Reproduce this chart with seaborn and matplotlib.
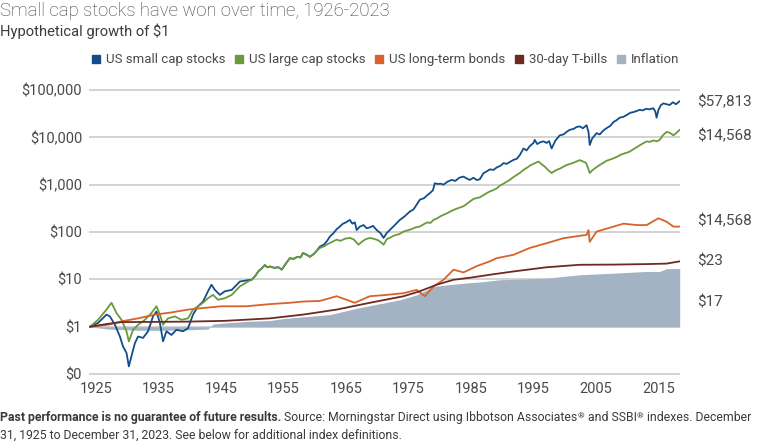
import matplotlib
matplotlib.use("Agg")
import pandas as pd
import seaborn as sns
import matplotlib.pyplot as plt
from matplotlib.lines import Line2D
from matplotlib.ticker import NullLocator

# values (x in the chart's own year scale)
small_years = [1924.0, 1925.3, 1926.65, 1927.2, 1928.0, 1928.8, 1929.3, 1929.85, 1930.23, 1930.65,
               1931.2, 1931.7, 1932.5, 1933.3, 1934.1, 1934.65, 1935.2, 1935.7, 1936.25, 1937.05,
               1937.85, 1938.9, 1939.7, 1940.5, 1941.3, 1942.1, 1942.9, 1943.45, 1944.0, 1944.8,
               1945.6, 1946.7, 1948.0, 1949.3, 1949.9,
               1950.5, 1951.0, 1951.5, 1952.0, 1952.4, 1952.8, 1953.5, 1954.2, 1954.7, 1955.3,
               1956.0, 1956.6, 1957.2, 1957.7, 1958.1, 1958.7, 1959.2, 1959.8, 1960.3, 1960.8,
               1961.5, 1962.0, 1962.4, 1963.0, 1963.5, 1964.0, 1964.5, 1965.0, 1965.6, 1966.0,
               1966.4, 1966.7, 1967.2, 1967.8, 1968.3, 1968.8, 1969.3, 1969.9, 1970.5, 1971.0,
               1971.5, 1972.0, 1972.8, 1973.6, 1974.3, 1975.2, 1975.8, 1976.3, 1976.8, 1977.5,
               1978.0, 1978.4, 1978.9, 1979.2, 1979.7, 1980.1, 1980.6, 1981.2, 1981.9, 1982.5,
               1983.1, 1983.8, 1984.3, 1984.8, 1985.4, 1985.9, 1986.4, 1987.0, 1987.5, 1988.0,
               1988.6, 1989.1, 1989.7, 1990.2, 1990.7, 1991.2, 1991.8, 1992.3, 1992.8, 1993.4,
               1993.9, 1994.4, 1995.0, 1995.2, 1995.6, 1996.1, 1996.6, 1997.1, 1997.5, 1997.9,
               1998.5, 1999.2, 1999.8, 2000.3, 2000.8, 2001.4, 2001.9, 2002.4, 2002.9, 2003.5,
               2003.8, 2004.0, 2004.4, 2005.1, 2005.6, 2006.2, 2006.7, 2007.3, 2007.8, 2008.3,
               2008.8, 2009.4, 2010.0, 2010.5, 2011.0, 2011.5, 2012.0, 2012.5, 2013.0, 2013.5,
               2014.2, 2014.5, 2014.7, 2015.0, 2015.4, 2015.8, 2016.3, 2016.8, 2017.3, 2017.8,
               2018.4]
small_vals = [1.0, 1.2, 1.8, 1.65, 1.1, 0.62, 0.38, 0.28, 0.145, 0.24,
              0.45, 0.62, 0.58, 0.8, 1.65, 2.1, 1.2, 0.49, 0.8, 0.67,
              0.86, 0.8, 0.93, 1.8, 2.7, 3.4, 5.6, 7.7, 6.0, 4.7,
              5.6, 6.0, 9.0, 9.6, 9.8,
              12, 15, 17, 20, 18, 18.7, 17.5, 18, 16, 21,
              28, 27, 30, 29, 36, 33, 30, 34, 40, 49,
              55, 66, 80, 95, 115, 130, 150, 160, 180, 150,
              160, 110, 130, 140, 120, 125, 135, 110, 95, 75,
              95, 110, 140, 180, 210, 270, 300, 380, 480, 520,
              600, 660, 760, 1070, 1030, 1050, 1000, 1150, 1260, 1200,
              1400, 1480, 1350, 1260, 1400, 1250, 1300, 1750, 1900, 2100,
              2050, 2300, 2500, 2850, 2750, 3000, 3340, 3500, 4200, 5800,
              5300, 6500, 7600, 8800, 7200, 7900, 8200, 7600, 8300, 5800,
              8500, 11000, 11500, 13000, 14400, 15000, 16500, 17000, 15500, 18000,
              13000, 6900, 9500, 12200, 11500, 14000, 15600, 17500, 21000, 23000,
              26000, 27000, 30000, 33000, 34000, 36000, 38000, 37000, 40000, 39000,
              41000, 35000, 26000, 38000, 48000, 52000, 50000, 48000, 55000, 50000,
              57800]

large_years = [1924.0, 1925.3, 1926.65, 1927.45, 1928.25, 1929.05, 1929.85, 1930.23, 1930.9, 1931.7,
               1932.8, 1933.85, 1934.65, 1935.2, 1935.7, 1936.5, 1937.6, 1938.65, 1939.7, 1940.5,
               1941.3, 1942.1, 1942.9, 1943.7, 1944.5, 1945.6, 1946.7, 1948.0, 1949.3, 1949.9,
               1950.5, 1951.0, 1951.5, 1952.0, 1952.4, 1952.8, 1953.5, 1954.2, 1954.7, 1955.3,
               1956.0, 1956.6, 1957.2, 1957.7, 1958.1, 1958.7, 1959.2, 1959.8, 1960.3, 1960.8,
               1961.5, 1962.1, 1962.8, 1963.5, 1964.1, 1964.8, 1965.6, 1966.2, 1967.0, 1967.5,
               1968.1, 1968.8, 1969.4, 1970.0, 1970.5, 1971.0, 1971.5, 1972.2, 1972.8, 1973.5,
               1974.2, 1974.8, 1975.5, 1976.1, 1976.8, 1977.4, 1978.0, 1978.5, 1979.0, 1979.6,
               1980.1, 1980.6, 1981.2, 1981.8, 1982.4, 1983.1, 1983.8, 1984.4, 1984.9, 1985.4,
               1985.9, 1986.4, 1987.0, 1987.5, 1988.0, 1988.5, 1989.1, 1989.6, 1990.2, 1990.7,
               1991.2, 1991.8, 1992.3, 1992.9, 1993.4, 1994.0, 1994.5, 1995.1, 1995.8, 1996.3,
               1996.8, 1997.4, 1997.9, 1998.4, 1998.9, 1999.3, 1999.8, 2000.3, 2000.9, 2001.4,
               2001.9, 2002.4, 2002.9, 2003.4, 2003.7, 2004.0, 2004.4, 2005.0, 2005.6, 2006.2,
               2006.7, 2007.3, 2007.8, 2008.4, 2009.0, 2009.6, 2010.1, 2010.4, 2011.0, 2011.6,
               2012.1, 2012.6, 2013.1, 2013.6, 2014.2, 2014.7, 2015.2, 2015.7, 2016.3, 2016.8,
               2017.4, 2017.9, 2018.4]
large_vals = [1.0, 1.4, 2.3, 3.2, 1.95, 1.4, 0.8, 0.49, 0.86, 1.1,
              1.4, 1.95, 2.7, 1.8, 1.1, 1.5, 1.65, 1.4, 1.5, 2.3,
              2.7, 3.2, 4.0, 4.7, 3.7, 4.0, 4.7, 7.1, 9.0, 9.8,
              12, 15, 17, 20, 18, 18.7, 17.5, 18, 16, 21,
              28, 27, 30, 29, 36, 33, 30, 34, 40, 46,
              50, 56, 62, 69, 65, 72, 75, 70, 54, 62,
              70, 75, 72, 68, 62, 54, 70, 78, 85, 90,
              102, 108, 115, 125, 130, 145, 160, 155, 180, 195,
              215, 230, 250, 275, 300, 325, 350, 400, 450, 500,
              520, 540, 600, 660, 720, 760, 830, 950, 1050, 1150,
              1260, 1450, 1600, 1800, 2050, 2300, 2550, 2800, 3070, 2700,
              2400, 2000, 1760, 1950, 2100, 2200, 2400, 2600, 2750, 2900,
              3100, 3300, 3100, 2900, 2300, 1760, 2000, 2300, 2600, 2900,
              3200, 3400, 3600, 3900, 4300, 4600, 4800, 5000, 5600, 6300,
              6900, 7500, 8200, 8000, 8600, 8200, 8800, 11000, 13000, 12500,
              11000, 12500, 14400]

bond_years = [1924.0, 1926.9, 1929.05, 1931.7, 1934.4, 1937.05, 1939.7, 1942.4, 1945.0, 1949.0,
              1952.8, 1956.0, 1958.1, 1960.8, 1963.5, 1966.4, 1968.8, 1971.5, 1974.2, 1976.3,
              1977.6, 1979.0, 1980.6, 1982.2, 1983.8, 1985.9, 1988.0, 1989.1, 1991.8, 1994.4,
              1997.1, 1999.8, 2003.5, 2003.8, 2004.0, 2005.1, 2007.8, 2009.4, 2011.5, 2013.1,
              2015.0, 2016.3, 2017.4, 2018.4]
bond_vals = [1.0, 1.1, 1.3, 1.5, 1.8, 2.0, 2.3, 2.5, 2.7, 2.7,
             3.0, 3.2, 3.4, 3.5, 4.4, 3.2, 4.4, 4.7, 5.1, 6.0,
             4.4, 7.1, 9.8, 16, 14, 19, 24, 28, 33, 46,
             58, 74, 87, 110, 62, 102, 130, 150, 140, 140,
             195, 165, 130, 130]

bill_years = [1924.0, 1926.9, 1929.05, 1939.7, 1945.6, 1952.8, 1958.1, 1963.5, 1968.8, 1974.2,
              1976.8, 1979.5, 1982.2, 1984.8, 1988.0, 1991.8, 1997.1, 2002.4, 2007.8, 2013.1,
              2016.3, 2018.4]
bill_vals = [1.0, 1.15, 1.25, 1.28, 1.33, 1.5, 1.8, 2.3, 3.2, 4.4,
             5.6, 7.7, 9.8, 10.8, 12.5, 14.7, 18, 20.3, 20.5, 21,
             21.5, 24]

infl_years = [1924.0, 1925.3, 1926.9, 1929.3, 1931.7, 1935.7, 1939.7, 1942.9, 1943.7, 1945.6,
              1949.3, 1952.8, 1955.2, 1962.4, 1967.0, 1973.6, 1976.3, 1979.0, 1980.6, 1984.3,
              1986.4, 1989.6, 1991.8, 1997.1, 2002.4, 2007.8, 2013.1, 2015.2, 2016.3, 2018.4]
infl_vals = [0.97, 0.95, 0.89, 0.87, 0.84, 0.84, 0.86, 0.89, 1.14, 1.2,
             1.3, 1.35, 1.5, 1.8, 2.5, 3.7, 4.7, 7.1, 7.5, 8.4,
             8.8, 9.8, 10, 10.6, 12.5, 13.5, 14.7, 14.7, 16.8, 17]

series_names = ["US small cap stocks", "US large cap stocks", "US long-term bonds",
                "30-day T-bills", "Inflation"]
colors = ["#124d8c", "#6a9a3b", "#d9622b", "#6e2a20", "#a3b3c3"]

y_ticks = [0.1, 1, 10, 100, 1000, 10000, 100000]
y_labels = ["$0", "$1", "$10", "$100", "$1,000", "$10,000", "$100,000"]
x_ticks = [1925, 1935, 1945, 1955, 1965, 1975, 1985, 1995, 2005, 2015]

end_labels = ["$57,813", "$14,568", "$14,568", "$23", "$17"]
end_label_y = [55900, 10700, 172, 23.5, 3.2]

sns.set_theme(style="white")
plt.rcParams["text.parse_math"] = False
plt.rcParams["font.family"] = ["Roboto", "DejaVu Sans"]

frames = []
for name, yrs, vals in [(series_names[0], small_years, small_vals),
                        (series_names[1], large_years, large_vals),
                        (series_names[2], bond_years, bond_vals),
                        (series_names[3], bill_years, bill_vals)]:
    frames.append(pd.DataFrame({"year": yrs, "value": vals, "series": name}))
df = pd.concat(frames, ignore_index=True)

fig = plt.figure(figsize=(7.67, 4.41), dpi=100)
ax = fig.add_axes([89 / 767, 66 / 441, 591 / 767, 286 / 441])

ax.fill_between(infl_years, 1, infl_vals, color=colors[4], lw=0, zorder=1)
sns.lineplot(data=df, x="year", y="value", hue="series", hue_order=series_names[:4],
             palette=colors[:4], estimator=None, sort=False, linewidth=1.3,
             legend=False, ax=ax, zorder=3)

ax.set_yscale("log")
ax.set_ylim(10 ** -1.02, 10 ** 5.02)
ax.set_xlim(1923.85, 2018.45)
ax.set_yticks(y_ticks)
ax.set_yticklabels(y_labels)
ax.yaxis.set_minor_locator(NullLocator())
ax.set_xticks(x_ticks)
ax.set_xticklabels([str(t) for t in x_ticks])
ax.grid(axis="y", color="#c8c8c8", linewidth=1.1)
ax.grid(axis="x", visible=False)
ax.set_axisbelow(True)
for s in ax.spines.values():
    s.set_visible(False)
ax.tick_params(axis="both", length=0, labelsize=10.5, colors="#4a4a4a")
ax.tick_params(axis="y", pad=5)
ax.tick_params(axis="x", pad=5)
ax.set_xlabel("")
ax.set_ylabel("")

for lab, yv in zip(end_labels, end_label_y):
    ax.text(1.0288, yv, lab, transform=ax.get_yaxis_transform(), va="center", ha="left",
            fontsize=11, color="#4a4a4a", clip_on=False)

handles = [Line2D([], [], marker="s", ls="", markersize=5.5, color=c) for c in colors]
fig.legend(handles, series_names, loc="center", bbox_to_anchor=(0.503, 0.864), ncol=5,
           frameon=False, handlelength=0.6, handletextpad=0.45, columnspacing=0.75,
           fontsize=9.5, labelcolor="#4a4a4a")

fig.text(0.0, 1 - 11 / 441, "Small cap stocks have won over time, 1926-2023", fontsize=13.3,
         fontweight="light", color="#3c3c3c", va="center")
fig.text(0.0, 1 - 31 / 441, "Hypothetical growth of $1", fontsize=10.6,
         color="#3c3c3c", va="center")

# footnote, built from chained pieces
foot_kw = dict(fontsize=8.8, color="#3a3a3a")
t = fig.text(0.0, 1 - 421 / 441, "Past performance is no guarantee of future results.",
             fontweight="bold", va="baseline", **foot_kw)
pieces = [(" Source: Morningstar Direct using Ibbotson Associates", False),
          ("®", True), (" and SSBI", False), ("®", True),
          (" indexes. December", False)]
base = t
prev = t
for txt, sup in pieces:
    if sup:
        prev = ax.annotate(txt, xy=(1, 0), xycoords=(prev, base), xytext=(0.3, 4),
                           textcoords="offset points", va="baseline", ha="left",
                           annotation_clip=False, fontsize=6, color="#3a3a3a")
    else:
        prev = ax.annotate(txt, xy=(1, 0), xycoords=(prev, base), xytext=(0, 0),
                           textcoords="offset points", va="bottom", ha="left",
                           annotation_clip=False, **foot_kw)
fig.text(0.0, 1 - 439 / 441, "31, 1925 to December 31, 2023. See below for additional index definitions.",
         va="baseline", **foot_kw)

fig.savefig("out.png", dpi=100)
